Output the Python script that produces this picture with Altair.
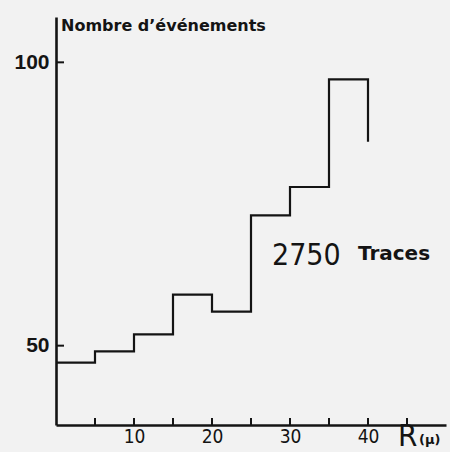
import altair as alt
import pandas as pd

# Histogram data (R in microns, number of events per 5-micron bin)
bin_edges = [0, 5, 10, 15, 20, 25, 30, 35]
counts = [47, 49, 52, 59, 56, 73, 78, 97]
bin_end = 40
tail_value = 86  # where the drawn line stops after the last bin

x_tick_marks = [5, 10, 15, 20, 25, 30, 35, 40, 45]
x_tick_labels = [10, 20, 30, 40]
y_tick_labels = [50, 100]

y_title = "Nombre d’événements"
count_label = "2750"
count_word = "Traces"
x_title_main = "R"
x_title_unit = "(μ)"

# Build the step outline from the arrays
xs = list(bin_edges) + [bin_end, bin_end]
ys = list(counts) + [counts[-1], tail_value]
line_df = pd.DataFrame({"R": xs, "n": ys, "i": list(range(len(xs)))})

W, H = 390, 408
INK = "#141414"
NARROW = "'Liberation Sans Narrow', 'DejaVu Sans Condensed', 'Liberation Sans', sans-serif"

x_scale = alt.Scale(domain=[0, 50], nice=False, zero=False)
y_scale = alt.Scale(domain=[36, 108], nice=False, zero=False)

x_axis = alt.Axis(
    values=x_tick_labels, title=None, grid=False, ticks=False,
    domainColor=INK, domainWidth=2.6, labelFont=NARROW, labelFontSize=19,
    labelColor=INK, labelPadding=2, labelFlush=False)
y_axis = alt.Axis(
    values=y_tick_labels, title=None, grid=False, ticks=False,
    domainColor=INK, domainWidth=2.6, labelFont="Liberation Sans",
    labelFontSize=21, labelFontWeight="bold", labelColor=INK,
    labelPadding=7)

steps = alt.Chart(line_df).mark_line(
    interpolate="step-after", color=INK, strokeWidth=2.2
).encode(
    x=alt.X("R:Q", scale=x_scale, axis=x_axis),
    y=alt.Y("n:Q", scale=y_scale, axis=y_axis),
    order="i:Q",
)

xticks = alt.Chart(pd.DataFrame({"t": x_tick_marks})).mark_rule(
    color=INK, strokeWidth=2
).encode(
    x=alt.X("t:Q", scale=x_scale, axis=x_axis),
    y=alt.value(H), y2=alt.value(H - 7),
)

yticks = alt.Chart(pd.DataFrame({"t": y_tick_labels})).mark_rule(
    color=INK, strokeWidth=2
).encode(
    y=alt.Y("t:Q", scale=y_scale, axis=y_axis),
    x=alt.value(0), x2=alt.value(8),
)

def label(text, x, y, size, font, weight="normal", align="left"):
    return alt.Chart(pd.DataFrame({"s": [text]})).mark_text(
        align=align, baseline="alphabetic", font=font, fontSize=size,
        fontWeight=weight, color=INK
    ).encode(x=alt.value(x), y=alt.value(y), text="s:N")

texts = [
    label(y_title, 5, 14, 16, "DejaVu Sans", "bold"),
    label(count_label, 216, 248, 30, NARROW),
    label(count_word, 338, 243, 20, "DejaVu Sans", "bold", "center"),
    label(x_title_main, 342, 429, 31, NARROW),
    label(x_title_unit, 363, 427, 13, "DejaVu Sans", "bold"),
]

chart = alt.layer(steps, xticks, yticks, *texts).properties(
    width=W, height=H,
    padding={"left": 56, "top": 17, "right": 4, "bottom": 27},
    autosize=alt.AutoSizeParams(type="none"),
    background="#f2f2f2",
).configure_view(stroke=None)

chart.save("out.html", embed_options={"renderer": "svg", "actions": False})
